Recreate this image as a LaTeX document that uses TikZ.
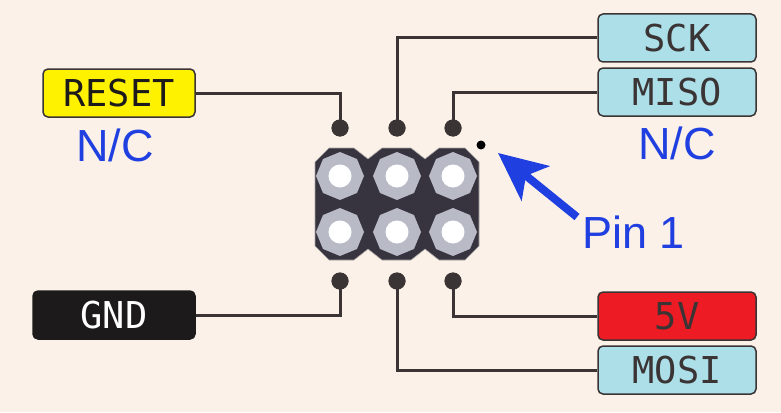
\documentclass[tikz,border=0pt]{standalone}
\usepackage{fontspec}
\setmainfont{Liberation Sans}
\setmonofont{DejaVu Sans Mono}
\usetikzlibrary{shapes.geometric,arrows.meta}
\definecolor{bg}{HTML}{FBF1E8}
\definecolor{wire}{HTML}{3A3434}
\definecolor{hdr}{HTML}{37333F}
\definecolor{ring}{HTML}{B8BAC6}
\definecolor{lblue}{HTML}{ADDFE9}
\definecolor{ylw}{HTML}{FFF200}
\definecolor{rd}{HTML}{ED1C24}
\definecolor{nc}{HTML}{1F3FE0}
\definecolor{blk}{HTML}{1C1A1A}
\begin{document}
\begin{tikzpicture}[x=1pt,y=-1pt,
  lab/.style={draw=wire,line width=1.5pt,rounded corners=5pt,minimum width=158pt,minimum height=48pt,font=\ttfamily\fontsize{37}{42}\selectfont,inner sep=0pt},
  w/.style={draw=wire,line width=3pt},
  dot/.style={circle,fill=wire,minimum size=17pt,inner sep=0pt},
  oct/.style={regular polygon,regular polygon sides=8,fill=ring,minimum size=48pt,inner sep=0pt,shape border rotate=22.5},
  hole/.style={circle,fill=white,minimum size=23pt,inner sep=0pt},
  ncs/.style={text=nc,font=\fontsize{45}{50}\selectfont,inner sep=0pt}]
\fill[bg] (0,0) rectangle (781,412);
% header body
\fill[hdr,draw=gray!70,line width=0.6pt] (315,162)--(329,148)--(354,148)--(368,159)--(382,148)--(411,148)--(425,159)--(439,148)--(465,148)--(479,162)--(479,246)--(465,260)--(439,260)--(425,249)--(411,260)--(382,260)--(368,249)--(354,260)--(329,260)--(315,246)--cycle;
\foreach \x in {340,397,453}{
  \node[oct] at (\x,176) {}; \node[hole] at (\x,176) {};
  \node[oct] at (\x,232) {}; \node[hole] at (\x,232) {};
}
% pin dots
\node[dot] (t1) at (340,128) {};
\node[dot] (t2) at (397,128) {};
\node[dot] (t3) at (453,128) {};
\node[dot] (b1) at (340,281) {};
\node[dot] (b2) at (397,281) {};
\node[dot] (b3) at (453,281) {};
\node[circle,fill=black,minimum size=9pt,inner sep=0pt] (p1) at (481,145) {};
% labels
\node[lab,fill=ylw,minimum width=152pt,text=blk] (reset) at (119,93) {RESET};
\node[lab,fill=lblue,text=wire] (sck) at (677,38) {SCK};
\node[lab,fill=lblue,text=wire] (miso) at (677,92) {MISO};
\node[lab,fill=blk,draw=blk,minimum width=162pt,text=white] (gnd) at (114,315) {GND};
\node[lab,fill=rd,text=wire] (v5) at (677,316) {5V};
\node[lab,fill=lblue,text=wire] (mosi) at (677,370) {MOSI};
\node[ncs] (nc1) at (115,145) {N/C};
\node[ncs] (nc2) at (677,143) {N/C};
\node[ncs,anchor=west] (pin) at (582,232) {Pin 1};
% wires
\draw[w] (reset.east) -| (t1.center);
\draw[w] (sck.west) -| (t2.center);
\draw[w] (miso.west) -| (t3.center);
\draw[w] (gnd.east) -| (b1.center);
\draw[w] (v5.west) -| (b3.center);
\draw[w] (mosi.west) -| (b2.center);
\foreach \n in {t1,t2,t3,b1,b2,b3} \node[dot] at (\n) {};
\coordinate (as) at (577,217);
\draw[nc,line width=8pt,-{Stealth[length=48pt,width=44pt,inset=12pt]}] (as) -- (498,153);
\end{tikzpicture}
\end{document}
